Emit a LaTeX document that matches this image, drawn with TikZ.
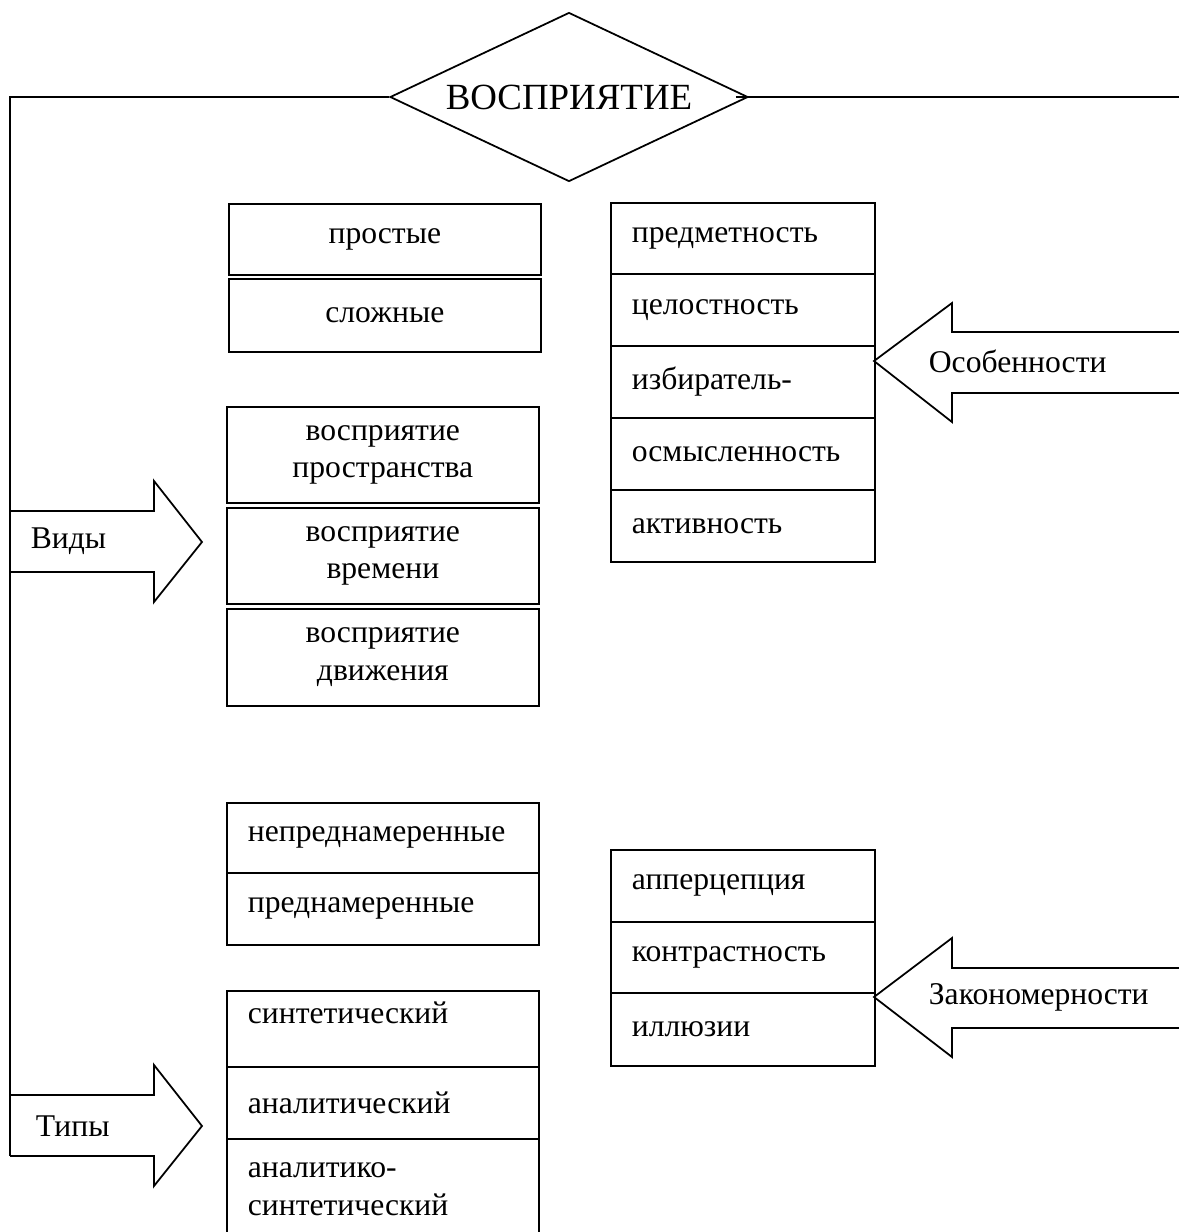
\documentclass[tikz,border=0pt]{standalone}
\usepackage{fontspec}
\setmainfont{Liberation Serif}
\usetikzlibrary{shapes.geometric,calc}
\begin{document}
\begin{tikzpicture}[x=0.02cm,y=-0.02cm,
  line width=1pt,
  every node/.style={font=\fontsize{18}{21.5}\selectfont},
  box/.style={draw, rectangle, anchor=north west, inner xsep=0.42cm, inner ysep=0pt, align=left, text width=#1},
  lbox/.style={box=5.4cm, minimum width=6.24cm},
  cbox/.style={lbox, align=center},
  rbox/.style={box=4.44cm, minimum width=5.28cm},
  lab/.style={anchor=west, inner sep=0pt},
  title/.style={draw, diamond, aspect=2.12, inner sep=0pt, minimum width=7.16cm, minimum height=3.38cm, font=\fontsize{21}{24}\selectfont}
]
\useasboundingbox (0,0) rectangle (1179,1232);

% title
\node[title] (t) at (569,97) {ВОСПРИЯТИЕ};
\coordinate (lc) at (10,97);
\coordinate (lb) at (10,1156);
\coordinate (re) at (1179,97);
\draw (t.west) -- (lc) -- (lb);
\draw ([xshift=-0.26cm]t.east) -- (re);

% left column, upper groups
\node[cbox, minimum height=1.42cm] (prost) at (228,203) {простые};
\node[cbox, minimum height=1.46cm] (slozh) at (228,278) {сложные};
\node[cbox, minimum height=1.92cm] (vpr) at (226,406) {восприятие\\пространства};
\node[cbox, minimum height=1.92cm] (vvr) at (226,507) {восприятие\\времени};
\node[cbox, minimum height=1.94cm] (vdv) at (226,608) {восприятие\\движения};

% left column, lower groups
\node[lbox, minimum height=1.40cm] (neprm) at (226,802) {непреднамеренные};
\node[lbox, minimum height=1.44cm] (prm) at (226,872) {преднамеренные};
\node[lbox, minimum height=1.52cm] (sint) at (226,990) {};
\node[lab] (sintt) at ($(sint.west)+(21,-16)$) {синтетический};
\node[lbox, minimum height=1.44cm] (anal) at (226,1066) {аналитический};
\node[lbox, minimum height=2.0cm] (ansint) at (226,1138) {аналитико-\\синтетический};

% right column
\node[rbox, minimum height=1.42cm] (pred) at (610,202) {предметность};
\node[rbox, minimum height=1.44cm] (cel) at (610,273) {целостность};
\node[rbox, minimum height=1.44cm] (izb) at (610,345) {избиратель-};
\node[rbox, minimum height=1.44cm] (osm) at (610,417) {осмысленность};
\node[rbox, minimum height=1.44cm] (akt) at (610,489) {активность};

\node[rbox, minimum height=1.44cm] (app) at (610,849) {апперцепция};
\node[rbox, minimum height=1.42cm] (kon) at (610,921) {контрастность};
\node[rbox, minimum height=1.46cm] (ill) at (610,992) {иллюзии};

% block arrows
\draw (10,511) -- (154,511) -- (154,481) -- (202,542) -- (154,602) -- (154,572) -- (10,572);
\node[lab] (vidy) at (30,541) {Виды};

\draw (lb) -- (154,1156) -- (154,1186) -- (202,1126) -- (154,1065) -- (154,1095) -- (10,1095);
\node[lab] (tipy) at (35,1126) {Типы};

\draw (1179,332) -- (952,332) -- (952,303) -- (874,361) -- (952,422) -- (952,393) -- (1179,393);
\node[lab] (osob) at (928,361) {Особенности};

\draw (1179,968) -- (952,968) -- (952,938) -- (874,997) -- (952,1057) -- (952,1028) -- (1179,1028);
\node[lab] (zak) at (928,997) {Закономерности};
\end{tikzpicture}
\end{document}
